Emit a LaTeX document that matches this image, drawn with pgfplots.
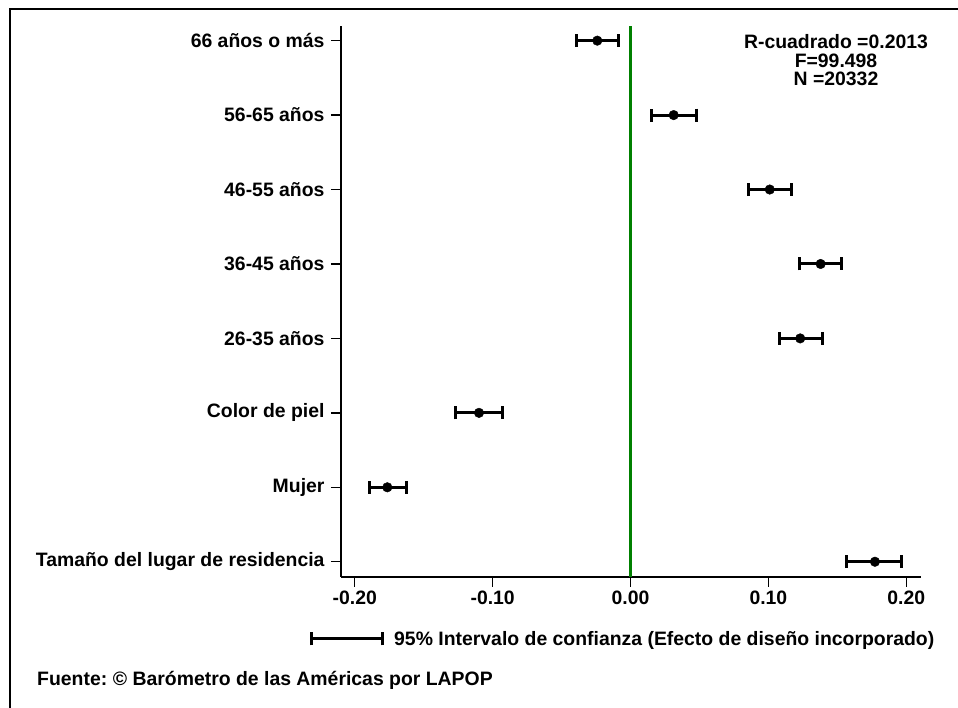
\documentclass[border=0pt]{standalone}
\usepackage{fontspec}
\setmainfont{Liberation Sans}
\usepackage{pgfplots}
\pgfplotsset{compat=1.18}
\usepackage{pgfplotstable}
\definecolor{zeroGreen}{RGB}{0,128,0}
\pgfplotstableread{
k c lo hi
0 0.1773 0.1568 0.1962
1 -0.1764 -0.1894 -0.1626
2 -0.1099 -0.1273 -0.0925
3 0.1231 0.1077 0.1391
4 0.1379 0.1229 0.1529
5 0.1010 0.0857 0.1171
6 0.0313 0.0154 0.0475
7 -0.0241 -0.0390 -0.0088
}\coefs
\newcommand{\lbl}{\fontsize{19.4bp}{22bp}\selectfont\bfseries}
\begin{document}
\begin{tikzpicture}
\useasboundingbox (0bp,0bp) rectangle (958bp,708bp);
\draw[line width=1.3bp] (10bp,0bp) -- (10bp,699bp) -- (958bp,699bp);
\begin{axis}[
  at={(341bp,131bp)}, anchor=south west,
  scale only axis, width=580bp, height=551bp,
  xmin=-0.21, xmax=0.2107, ymin=-0.205, ymax=7.197,
  axis x line*=bottom, axis y line*=left,
  axis line style={line width=1.8bp, -},
  xtick={-0.2,-0.1,0,0.1,0.2},
  xticklabels={-0.20,-0.10,0.00,0.10,0.20},
  ytick={0,1,2,3,4,5,6,7},
  yticklabels={Tamaño del lugar de residencia,Mujer,Color de piel,26-35 años,36-45 años,46-55 años,56-65 años,66 años o más},
  tick align=outside, major tick length=10bp,
  tick style={line width=1.3bp, black},
  ticklabel style={font=\lbl},
  yticklabel style={xshift=-3bp},
  clip=false,
]
\addplot[zeroGreen, line width=2.6bp] coordinates {(0,-0.205) (0,7.197)};
\addplot[only marks, mark=*, mark size=4.8bp, black,
  error bars/.cd, x dir=both, x explicit,
  error mark=|,
  error bar style={line width=3bp, black},
  error mark options={line width=3bp, mark size=6.5bp, black}]
  table[x=c, y=k, x error plus expr=\thisrow{hi}-\thisrow{c}, x error minus expr=\thisrow{c}-\thisrow{lo}] {\coefs};
\end{axis}
\node[anchor=base, font=\lbl, inner sep=0pt] at (836bp,659bp) {R-cuadrado =0.2013};
\node[anchor=base, font=\lbl, inner sep=0pt] at (836bp,640.5bp) {F=99.498};
\node[anchor=base, font=\lbl, inner sep=0pt] at (836bp,622bp) {N =20332};
\draw[line width=3bp] (311bp,69bp) -- (382bp,69bp);
\draw[line width=3bp] (311bp,62.5bp) -- (311bp,75.5bp);
\draw[line width=3bp] (382bp,62.5bp) -- (382bp,75.5bp);
\node[anchor=base west, font=\lbl, inner sep=0pt] at (394bp,62bp) {95\% Intervalo de confianza (Efecto de diseño incorporado)};
\node[anchor=base west, font=\lbl, inner sep=0pt] at (37bp,23bp) {Fuente:\hspace{-1.5bp} © Barómetro de las Américas por LAPOP};
\end{tikzpicture}
\end{document}
